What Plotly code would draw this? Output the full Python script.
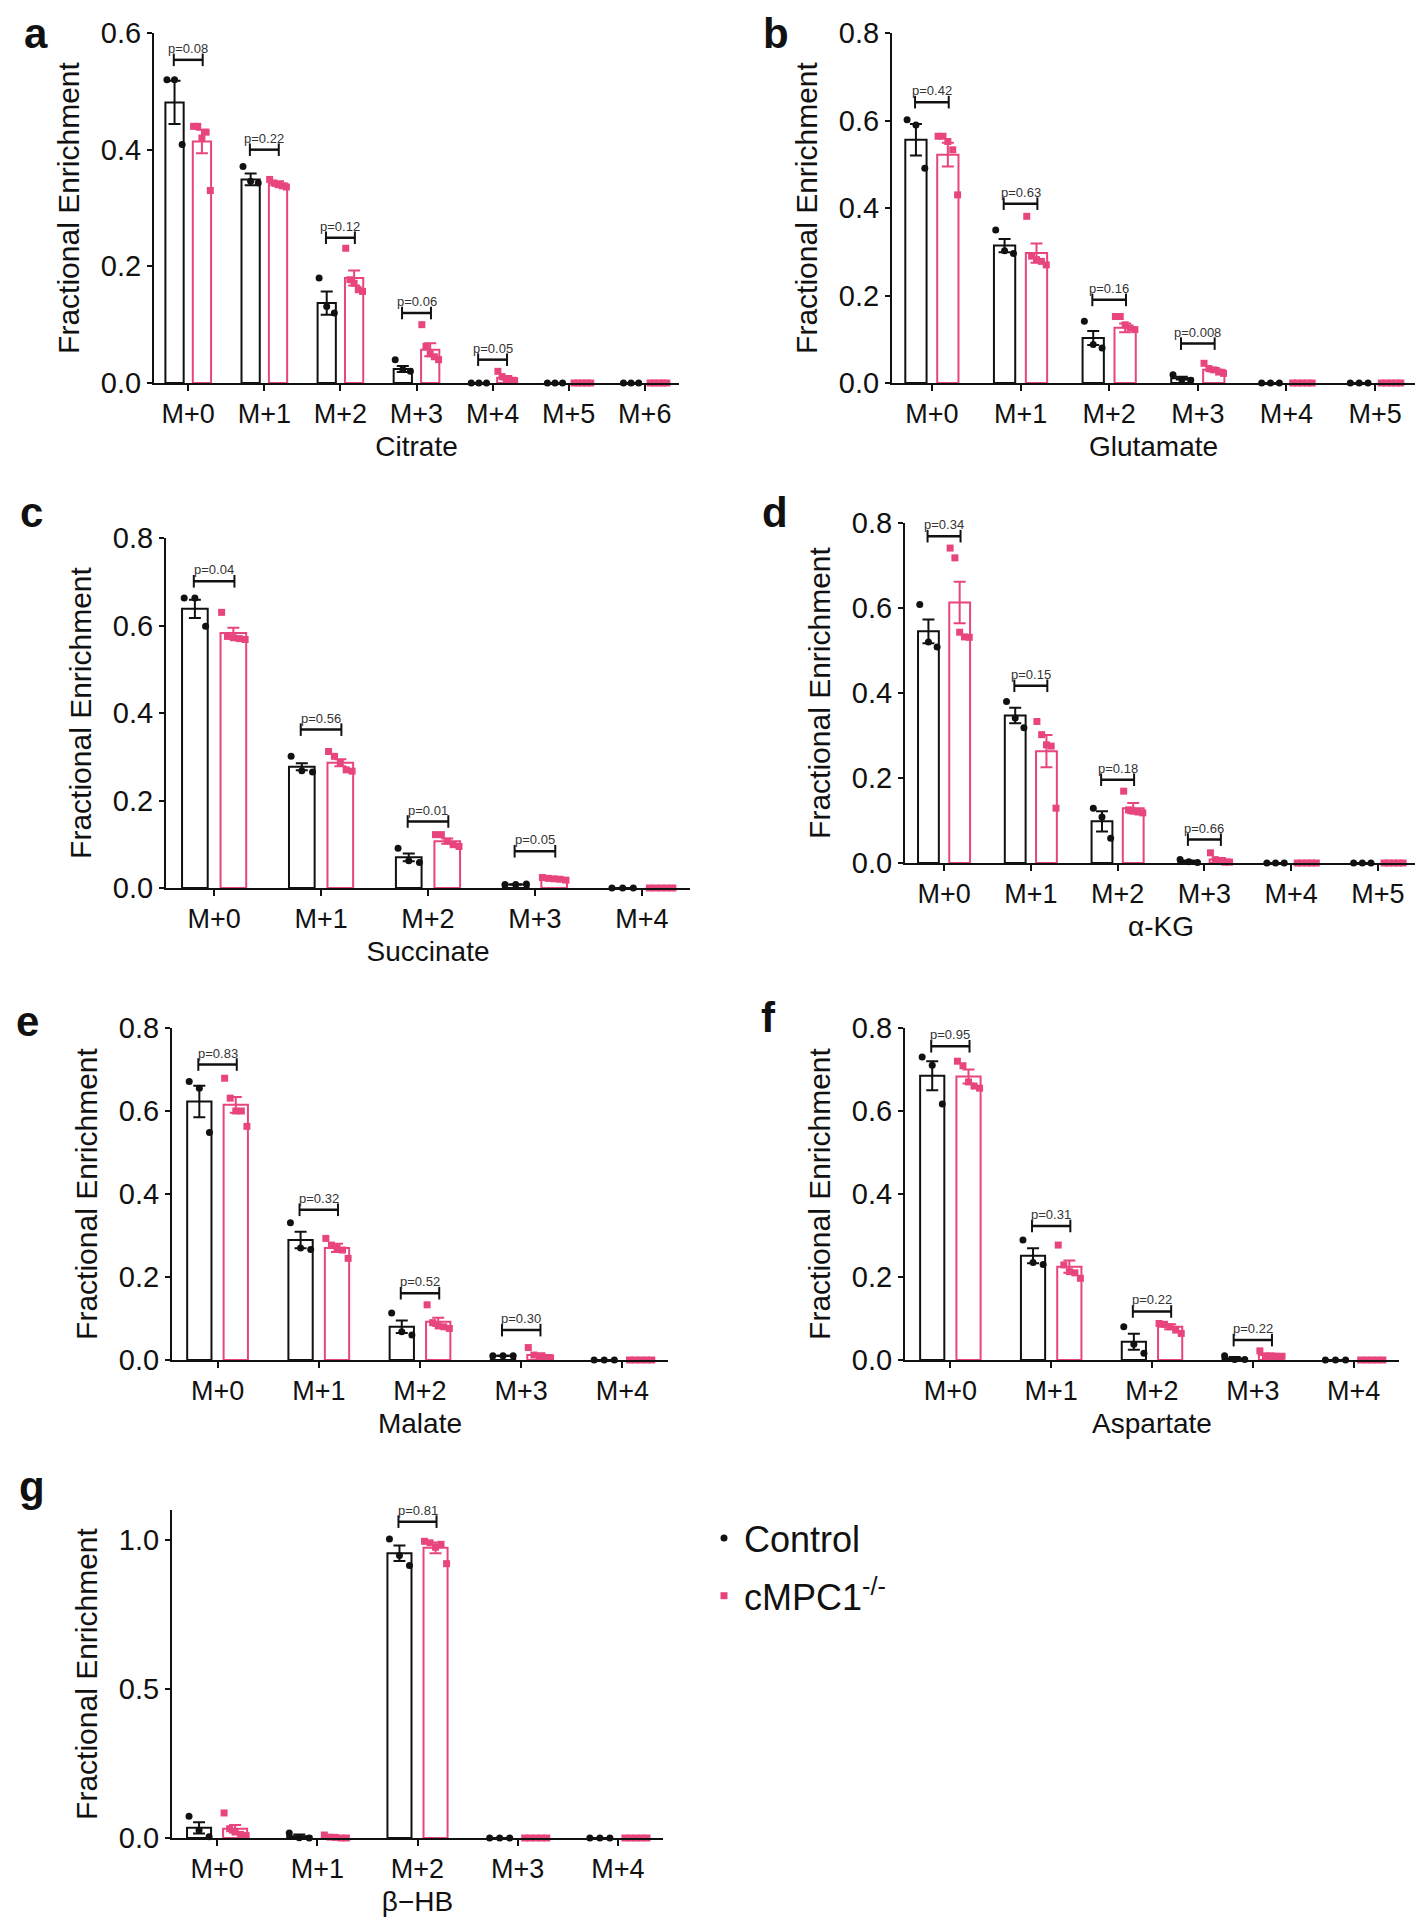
import plotly.graph_objects as go

W, H = 1423, 1920
PAGE_PAD = 8  # the html body margin shifts the figure by this many pixels
BLACK = "#111111"
PINK = "#E8457F"
FONT = "Liberation Sans, Arial, sans-serif"

# ---- a: Citrate
citrate_labels = ["M+0", "M+1", "M+2", "M+3", "M+4", "M+5", "M+6"]
citrate_ctrl_mean = [0.481, 0.349, 0.137, 0.024, 0, 0, 0]
citrate_ctrl_sem = [0.037, 0.010, 0.020, 0.005, 0, 0, 0]
citrate_ko_mean = [0.414, 0.342, 0.180, 0.057, 0.009, 0, 0]
citrate_ko_sem = [0.020, 0.004, 0.013, 0.011, 0.003, 0, 0]
citrate_ctrl_pts = [[0.52, 0.52, 0.409], [0.371, 0.346, 0.343], [0.18, 0.131, 0.12],
                    [0.04, 0.023, 0.02], [0, 0, 0], [0, 0, 0], [0, 0, 0]]
citrate_ko_pts = [[0.44, 0.44, 0.42, 0.43, 0.33], [0.349, 0.343, 0.34, 0.338, 0.336],
                  [0.231, 0.177, 0.171, 0.16, 0.157], [0.1, 0.063, 0.05, 0.045, 0.04],
                  [0.02, 0.011, 0.006, 0.004, 0.004], [0, 0, 0, 0, 0], [0, 0, 0, 0, 0]]
citrate_p = ["p=0.08", "p=0.22", "p=0.12", "p=0.06", "p=0.05", "", ""]
citrate_bracket = [0.554, 0.40, 0.249, 0.12, 0.04, None, None]

# ---- b: Glutamate
glutamate_labels = ["M+0", "M+1", "M+2", "M+3", "M+4", "M+5"]
glutamate_ctrl_mean = [0.556, 0.314, 0.103, 0.011, 0, 0]
glutamate_ctrl_sem = [0.036, 0.015, 0.016, 0.003, 0, 0]
glutamate_ko_mean = [0.522, 0.297, 0.126, 0.030, 0, 0]
glutamate_ko_sem = [0.027, 0.022, 0.010, 0.004, 0, 0]
glutamate_ctrl_pts = [[0.602, 0.59, 0.491], [0.35, 0.302, 0.296], [0.141, 0.088, 0.08],
                      [0.019, 0.008, 0.006], [0, 0, 0], [0, 0, 0]]
glutamate_ko_pts = [[0.564, 0.564, 0.552, 0.533, 0.43], [0.381, 0.29, 0.282, 0.278, 0.27],
                    [0.152, 0.152, 0.133, 0.126, 0.122], [0.045, 0.033, 0.03, 0.025, 0.022],
                    [0, 0, 0, 0, 0], [0, 0, 0, 0, 0]]
glutamate_p = ["p=0.42", "p=0.63", "p=0.16", "p=0.008", "", ""]
glutamate_bracket = [0.642, 0.41, 0.19, 0.09, None, None]

# ---- c: Succinate
succinate_labels = ["M+0", "M+1", "M+2", "M+3", "M+4"]
succinate_ctrl_mean = [0.638, 0.277, 0.070, 0.008, 0]
succinate_ctrl_sem = [0.021, 0.008, 0.009, 0.0005, 0]
succinate_ko_mean = [0.583, 0.286, 0.107, 0.021, 0]
succinate_ko_sem = [0.012, 0.008, 0.006, 0.002, 0]
succinate_ctrl_pts = [[0.663, 0.663, 0.598], [0.301, 0.268, 0.265], [0.091, 0.062, 0.058],
                      [0.008, 0.008, 0.009], [0, 0, 0]]
succinate_ko_pts = [[0.63, 0.575, 0.572, 0.57, 0.568], [0.312, 0.301, 0.286, 0.27, 0.267],
                    [0.122, 0.122, 0.107, 0.099, 0.095], [0.024, 0.022, 0.021, 0.02, 0.018],
                    [0, 0, 0, 0, 0]]
succinate_p = ["p=0.04", "p=0.56", "p=0.01", "p=0.05", ""]
succinate_bracket = [0.701, 0.362, 0.152, 0.084, None]

# ---- d: alpha-KG
akg_labels = ["M+0", "M+1", "M+2", "M+3", "M+4", "M+5"]
akg_ctrl_mean = [0.545, 0.347, 0.098, 0.004, 0, 0]
akg_ctrl_sem = [0.028, 0.018, 0.024, 0.002, 0, 0]
akg_ko_mean = [0.613, 0.263, 0.129, 0.008, 0, 0]
akg_ko_sem = [0.049, 0.038, 0.012, 0.004, 0, 0]
akg_ctrl_pts = [[0.608, 0.52, 0.508], [0.38, 0.341, 0.318], [0.129, 0.108, 0.058],
                [0.008, 0.003, 0.001], [0, 0, 0], [0, 0, 0]]
akg_ko_pts = [[0.741, 0.718, 0.543, 0.532, 0.531], [0.333, 0.302, 0.278, 0.275, 0.129],
              [0.169, 0.125, 0.122, 0.12, 0.118], [0.024, 0.008, 0.004, 0.002, 0.002],
              [0, 0, 0, 0, 0], [0, 0, 0, 0, 0]]
akg_p = ["p=0.34", "p=0.15", "p=0.18", "p=0.66", "", ""]
akg_bracket = [0.769, 0.417, 0.196, 0.055, None, None]

# ---- e: Malate
malate_labels = ["M+0", "M+1", "M+2", "M+3", "M+4"]
malate_ctrl_mean = [0.623, 0.289, 0.080, 0.010, 0]
malate_ctrl_sem = [0.038, 0.020, 0.015, 0.0005, 0]
malate_ko_mean = [0.615, 0.270, 0.092, 0.012, 0]
malate_ko_sem = [0.019, 0.010, 0.010, 0.004, 0]
malate_ctrl_pts = [[0.671, 0.655, 0.548], [0.331, 0.27, 0.266], [0.113, 0.068, 0.06],
                   [0.01, 0.01, 0.01], [0, 0, 0]]
malate_ko_pts = [[0.679, 0.631, 0.6, 0.6, 0.563], [0.293, 0.277, 0.27, 0.265, 0.245],
                 [0.133, 0.09, 0.082, 0.08, 0.076], [0.03, 0.012, 0.008, 0.006, 0.005],
                 [0, 0, 0, 0, 0]]
malate_p = ["p=0.83", "p=0.32", "p=0.52", "p=0.30", ""]
malate_bracket = [0.712, 0.362, 0.161, 0.072, None]

# ---- f: Aspartate
aspartate_labels = ["M+0", "M+1", "M+2", "M+3", "M+4"]
aspartate_ctrl_mean = [0.685, 0.251, 0.044, 0.004, 0]
aspartate_ctrl_sem = [0.035, 0.018, 0.019, 0.003, 0]
aspartate_ko_mean = [0.683, 0.225, 0.080, 0.012, 0]
aspartate_ko_sem = [0.017, 0.015, 0.006, 0.003, 0]
aspartate_ctrl_pts = [[0.73, 0.71, 0.617], [0.289, 0.235, 0.23], [0.08, 0.038, 0.016],
                      [0.01, 0.001, 0.001], [0, 0, 0]]
aspartate_ko_pts = [[0.72, 0.709, 0.67, 0.66, 0.655], [0.277, 0.229, 0.213, 0.21, 0.197],
                    [0.088, 0.086, 0.08, 0.072, 0.064], [0.022, 0.01, 0.01, 0.009, 0.009],
                    [0, 0, 0, 0, 0]]
aspartate_p = ["p=0.95", "p=0.31", "p=0.22", "p=0.22", ""]
aspartate_bracket = [0.756, 0.323, 0.117, 0.048, None]

# ---- g: beta-HB
bhb_labels = ["M+0", "M+1", "M+2", "M+3", "M+4"]
bhb_ctrl_mean = [0.034, 0.006, 0.955, 0, 0]
bhb_ctrl_sem = [0.019, 0.006, 0.026, 0, 0]
bhb_ko_mean = [0.031, 0.003, 0.973, 0, 0]
bhb_ko_sem = [0.013, 0.002, 0.018, 0, 0]
bhb_ctrl_pts = [[0.073, 0.026, 0.004], [0.017, 0.001, 0], [1.003, 0.947, 0.914], [0, 0, 0], [0, 0, 0]]
bhb_ko_pts = [[0.084, 0.031, 0.02, 0.012, 0.008], [0.01, 0.003, 0.002, 0, 0],
              [0.995, 0.99, 0.975, 0.985, 0.92], [0, 0, 0, 0, 0], [0, 0, 0, 0, 0]]
bhb_p = ["", "", "p=0.81", "", ""]
bhb_bracket = [None, None, 1.061, None, None]


def px_x(px):
    return (px - PAGE_PAD) / W


def px_y(py):
    return 1 - (py - PAGE_PAD) / H


# panel boxes in page pixels: x0, x1, ytop, ybottom
panels = [
    dict(letter="a", title="Citrate", labels=citrate_labels, cm=citrate_ctrl_mean, cs=citrate_ctrl_sem,
         km=citrate_ko_mean, ks=citrate_ko_sem, cp=citrate_ctrl_pts, kp=citrate_ko_pts,
         p=citrate_p, br=citrate_bracket, ymax=0.6, ticks=[0, 0.2, 0.4, 0.6],
         box=(154, 679, 33, 383), lpos=(36, None)),
    dict(letter="b", title="Glutamate", labels=glutamate_labels, cm=glutamate_ctrl_mean, cs=glutamate_ctrl_sem,
         km=glutamate_ko_mean, ks=glutamate_ko_sem, cp=glutamate_ctrl_pts, kp=glutamate_ko_pts,
         p=glutamate_p, br=glutamate_bracket, ymax=0.8, ticks=[0, 0.2, 0.4, 0.6, 0.8],
         box=(892, 1415, 33, 383), lpos=(776, None)),
    dict(letter="c", title="Succinate", labels=succinate_labels, cm=succinate_ctrl_mean, cs=succinate_ctrl_sem,
         km=succinate_ko_mean, ks=succinate_ko_sem, cp=succinate_ctrl_pts, kp=succinate_ko_pts,
         p=succinate_p, br=succinate_bracket, ymax=0.8, ticks=[0, 0.2, 0.4, 0.6, 0.8],
         box=(166, 690, 538, 888), lpos=(32, 513)),
    dict(letter="d", title="α-KG", labels=akg_labels, cm=akg_ctrl_mean, cs=akg_ctrl_sem,
         km=akg_ko_mean, ks=akg_ko_sem, cp=akg_ctrl_pts, kp=akg_ko_pts,
         p=akg_p, br=akg_bracket, ymax=0.8, ticks=[0, 0.2, 0.4, 0.6, 0.8],
         box=(905, 1417, 523, 863), lpos=(775, 513)),
    dict(letter="e", title="Malate", labels=malate_labels, cm=malate_ctrl_mean, cs=malate_ctrl_sem,
         km=malate_ko_mean, ks=malate_ko_sem, cp=malate_ctrl_pts, kp=malate_ko_pts,
         p=malate_p, br=malate_bracket, ymax=0.8, ticks=[0, 0.2, 0.4, 0.6, 0.8],
         box=(172, 668, 1028, 1360), lpos=(27, 1022)),
    dict(letter="f", title="Aspartate", labels=aspartate_labels, cm=aspartate_ctrl_mean, cs=aspartate_ctrl_sem,
         km=aspartate_ko_mean, ks=aspartate_ko_sem, cp=aspartate_ctrl_pts, kp=aspartate_ko_pts,
         p=aspartate_p, br=aspartate_bracket, ymax=0.8, ticks=[0, 0.2, 0.4, 0.6, 0.8],
         box=(905, 1399, 1028, 1360), lpos=(769, 1018)),
    dict(letter="g", title="β−HB", labels=bhb_labels, cm=bhb_ctrl_mean, cs=bhb_ctrl_sem,
         km=bhb_ko_mean, ks=bhb_ko_sem, cp=bhb_ctrl_pts, kp=bhb_ko_pts,
         p=bhb_p, br=bhb_bracket, ymax=1.1, ticks=[0, 0.5, 1.0],
         box=(172, 663, 1510, 1838), lpos=(32, 1486)),
]

OFF = 0.18
BW = 0.24

fig = go.Figure()
annotations = []
layout_axes = {}

for k, pn in enumerate(panels):
    n = len(pn["labels"])
    sfx = "" if k == 0 else str(k + 1)
    xa, ya = "x" + sfx, "y" + sfx
    x0, x1, yt, yb = pn["box"]
    idx = list(range(n))

    for means, sems, col, sign in [(pn["cm"], pn["cs"], BLACK, -1), (pn["km"], pn["ks"], PINK, 1)]:
        fig.add_trace(go.Bar(
            x=[i + sign * OFF for i in idx], y=means, width=BW,
            marker=dict(color="white", line=dict(color=col, width=2)),
            error_y=dict(type="data", array=sems, color=col, thickness=2, width=6),
            xaxis=xa, yaxis=ya, showlegend=False, hoverinfo="skip"))

    for pts, col, sign, sym, step, name, grp in [
            (pn["cp"], BLACK, -1, "circle", 0.1, "Control", "ctrl"),
            (pn["kp"], PINK, 1, "square", 0.055, "cMPC1<sup>-/-</sup>", "ko")]:
        xs, ys = [], []
        for i, vals in enumerate(pts):
            m = len(vals)
            for j, v in enumerate(vals):
                xs.append(i + sign * OFF + (j - (m - 1) / 2) * step)
                ys.append(v)
        fig.add_trace(go.Scatter(
            x=xs, y=ys, mode="markers", cliponaxis=False,
            marker=dict(color=col, size=7, symbol=sym, line=dict(width=0)),
            xaxis=xa, yaxis=ya, name=name, legendgroup=grp, showlegend=(k == 0)))

    for i in idx:
        b = pn["br"][i]
        if b is None:
            continue
        fig.add_trace(go.Scatter(
            x=[i - OFF - 0.01, i + OFF + 0.01], y=[b, b], mode="lines+markers",
            line=dict(color=BLACK, width=2.5), cliponaxis=False,
            marker=dict(symbol="line-ns-open", size=9, line=dict(color=BLACK, width=2)),
            xaxis=xa, yaxis=ya, showlegend=False, hoverinfo="skip"))
        annotations.append(dict(x=i, y=b, xref=xa, yref=ya, text=pn["p"][i], showarrow=False,
                                yanchor="bottom", yshift=2, font=dict(size=13, color="#333", family=FONT)))

    layout_axes["xaxis" + sfx] = dict(
        domain=[px_x(x0), px_x(x1)], anchor=ya, range=[-0.45, n - 0.55], automargin=False,
        tickvals=idx, ticktext=pn["labels"], showline=True, linecolor=BLACK, linewidth=2,
        ticks="outside", ticklen=6, tickwidth=1.5, tickcolor=BLACK, showgrid=False, zeroline=False,
        tickfont=dict(size=27, family=FONT, color=BLACK),
        title=dict(text=pn["title"], standoff=8, font=dict(size=28, family=FONT, color=BLACK)))
    layout_axes["yaxis" + sfx] = dict(
        domain=[px_y(yb), px_y(yt)], anchor=xa, range=[0, pn["ymax"]], automargin=False,
        tickvals=pn["ticks"], tickformat=".1f", showline=True, linecolor=BLACK, linewidth=2,
        ticks="outside", ticklen=5, tickwidth=1.5, tickcolor=BLACK, showgrid=False, zeroline=False,
        tickfont=dict(size=29, family=FONT, color=BLACK),
        title=dict(text="Fractional Enrichment", standoff=12, font=dict(size=30, family=FONT, color=BLACK)))

    lx, ly = pn["lpos"]
    letter = dict(x=px_x(lx), xref="paper", yref="paper", text="<b>%s</b>" % pn["letter"],
                  showarrow=False, xanchor="center", font=dict(size=42, family=FONT, color=BLACK))
    if ly is None:
        letter.update(y=1, yanchor="top")
    else:
        letter.update(y=px_y(ly), yanchor="middle")
    annotations.append(letter)

fig.update_layout(
    width=W, height=H, margin=dict(l=0, r=0, t=0, b=0, autoexpand=False),
    paper_bgcolor="white", plot_bgcolor="white",
    barmode="overlay", annotations=annotations,
    font=dict(family=FONT, color=BLACK),
    legend=dict(x=px_x(704), y=px_y(1508), xanchor="left", yanchor="top",
                font=dict(size=36, family=FONT, color=BLACK),
                tracegroupgap=8, traceorder="grouped", bgcolor="rgba(0,0,0,0)"),
    **layout_axes)

fig.write_html("out.html")
